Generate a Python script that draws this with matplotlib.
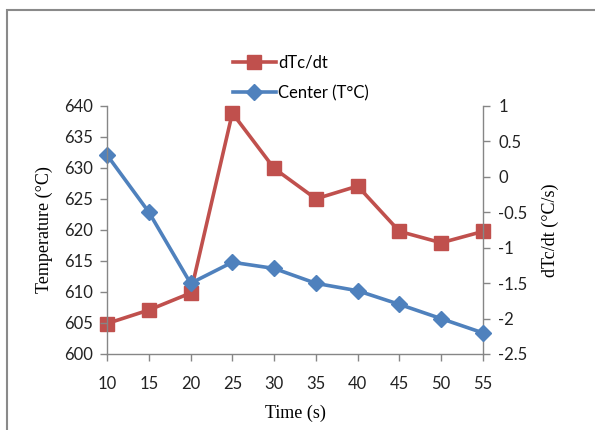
import matplotlib.pyplot as plt
from matplotlib.lines import Line2D
from matplotlib.patches import Rectangle

time_s = [10, 15, 20, 25, 30, 35, 40, 45, 50, 55]
center_temp = [632.1, 622.9, 611.4, 614.8, 613.8, 611.4, 610.2, 608.0, 605.7, 603.4]
dtc_dt = [-2.07, -1.88, -1.64, 0.90, 0.12, -0.31, -0.13, -0.77, -0.93, -0.77]

left_ticks = [600, 605, 610, 615, 620, 625, 630, 635, 640]
right_ticks = [-2.5, -2, -1.5, -1, -0.5, 0, 0.5, 1]

RED = "#C0504D"
BLUE = "#4F81BD"
SPINE = "#868686"
SANS = ["Lato", "DejaVu Sans"]
SERIF = ["Liberation Serif", "DejaVu Serif"]

W, H = 595, 430
fig = plt.figure(figsize=(W / 100, H / 100), dpi=100)
ax = fig.add_axes([107 / W, 1 - 354 / H, (483 - 107) / W, (354 - 106) / H])
ax2 = ax.twinx()

ax2.plot(time_s, dtc_dt, color=RED, lw=2.6, marker="s", ms=10, clip_on=False)
ax.plot(time_s, center_temp, color=BLUE, lw=2.6, marker="D", ms=8, clip_on=False)
ax.set_zorder(ax2.get_zorder() + 1)
ax.patch.set_visible(False)

ax.set_xlim(10, 55)
ax.set_ylim(600, 640)
ax2.set_ylim(-2.5, 1)
ax.set_xticks(time_s)
ax.set_yticks(left_ticks)
ax2.set_yticks(right_ticks)
ax2.set_yticklabels([f"{t:g}" for t in right_ticks])

for a in (ax, ax2):
    a.spines["top"].set_visible(False)
    for s in a.spines.values():
        s.set_color(SPINE)
        s.set_linewidth(1.0)
    a.tick_params(colors=SPINE, length=5, width=1.0, labelcolor="#222222",
                  labelsize=12)
    for lbl in a.get_xticklabels() + a.get_yticklabels():
        lbl.set_family(SANS)
ax.spines["right"].set_visible(False)
ax2.spines["left"].set_visible(False)
ax2.spines["bottom"].set_visible(False)
ax.tick_params(axis="x", pad=11)
ax.tick_params(axis="y", pad=5)
ax2.tick_params(axis="y", pad=6)

ax.set_xlabel("Time (s)", family=SERIF, fontsize=13, labelpad=9)
ax.set_ylabel("Temperature (°C)", family=SERIF, fontsize=13, labelpad=8)
ax2.set_ylabel("dTc/dt (°C/s)", family=SERIF, fontsize=13, labelpad=10)

handles = [
    Line2D([], [], color=RED, lw=2.6, marker="s", ms=10),
    Line2D([], [], color=BLUE, lw=2.6, marker="D", ms=8),
]
fig.legend(handles, ["dTc/dt", "Center (T°C)"], loc="upper left",
           bbox_to_anchor=(226 / W, 1 - 48 / H), frameon=False,
           prop={"family": SANS, "size": 12}, handlelength=2.6,
           handletextpad=0.15, labelspacing=0.85, borderaxespad=0)

fig.add_artist(Rectangle((7 / W, -0.05), 1.1, 1 - 10 / H + 0.05,
                         transform=fig.transFigure, fill=False,
                         edgecolor="#8a8a8a", lw=1.5))

fig.savefig("out.png", dpi=100)
